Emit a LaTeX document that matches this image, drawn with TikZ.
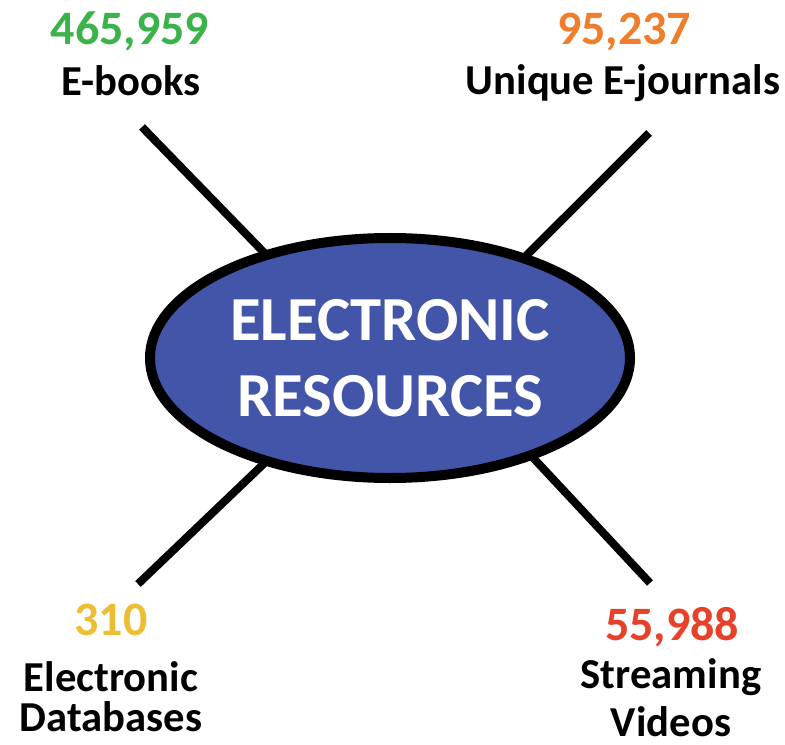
\documentclass[tikz,border=0pt]{standalone}
\usepackage{fontspec}
\setmainfont{Carlito}
\usetikzlibrary{shapes.geometric}
\definecolor{hubblue}{RGB}{66, 85, 168}
\definecolor{numgreen}{RGB}{59, 178, 74}
\definecolor{numorange}{RGB}{240, 125, 42}
\definecolor{numyellow}{RGB}{238, 190, 50}
\definecolor{numred}{RGB}{232, 65, 42}

\begin{document}
\begin{tikzpicture}[x=0.75pt, y=-0.75pt,
    num/.style={anchor=base, font=\fontsize{36}{40}\selectfont\bfseries},
    lbl/.style={anchor=base, align=center, font=\fontsize{32}{30}\selectfont\bfseries},
    spoke/.style={line width=6pt, shorten >=-3pt}]
    \useasboundingbox (0,0) rectangle (785,745);
    \node[ellipse, draw, line width=7.5pt, fill=hubblue, text=white,
      minimum width=360pt, minimum height=180pt, inner sep=0pt, align=center,
      font=\fontsize{47}{57}\selectfont\bfseries] (hub) at (390,358) {ELECTRONIC\\RESOURCES};
    % outer ends of the four spokes
    \coordinate (ebooksend) at (142,127);
    \coordinate (journalsend) at (649,133);
    \coordinate (dbend) at (138,584);
    \coordinate (videosend) at (650,583);
    \draw[spoke] (ebooksend) -- (hub.140);
    \draw[spoke] (journalsend) -- (hub.37);
    \draw[spoke] (dbend) -- (hub.220);
    \draw[spoke] (videosend) -- (hub.325);
    \node[num, numgreen] (ebooksnum) at (130,45) {465,959};
    \node[lbl] (ebookslbl) at (131,96) {E-books};
    \node[num, numorange] (journalsnum) at (624,45) {95,237};
    \node[lbl] (journalslbl) at (623,95) {Unique E-journals};
    \node[num, numyellow] (dbnum) at (111,635) {310};
    \node[lbl] (dblbl) at (111,731) {Electronic\\Databases};
    \node[num, numred] (videosnum) at (672,640) {55,988};
    \node[lbl, font=\fontsize{32}{36}\selectfont\bfseries] (videoslbl) at (671,736) {Streaming\\Videos};
  \end{tikzpicture}
\end{document}
